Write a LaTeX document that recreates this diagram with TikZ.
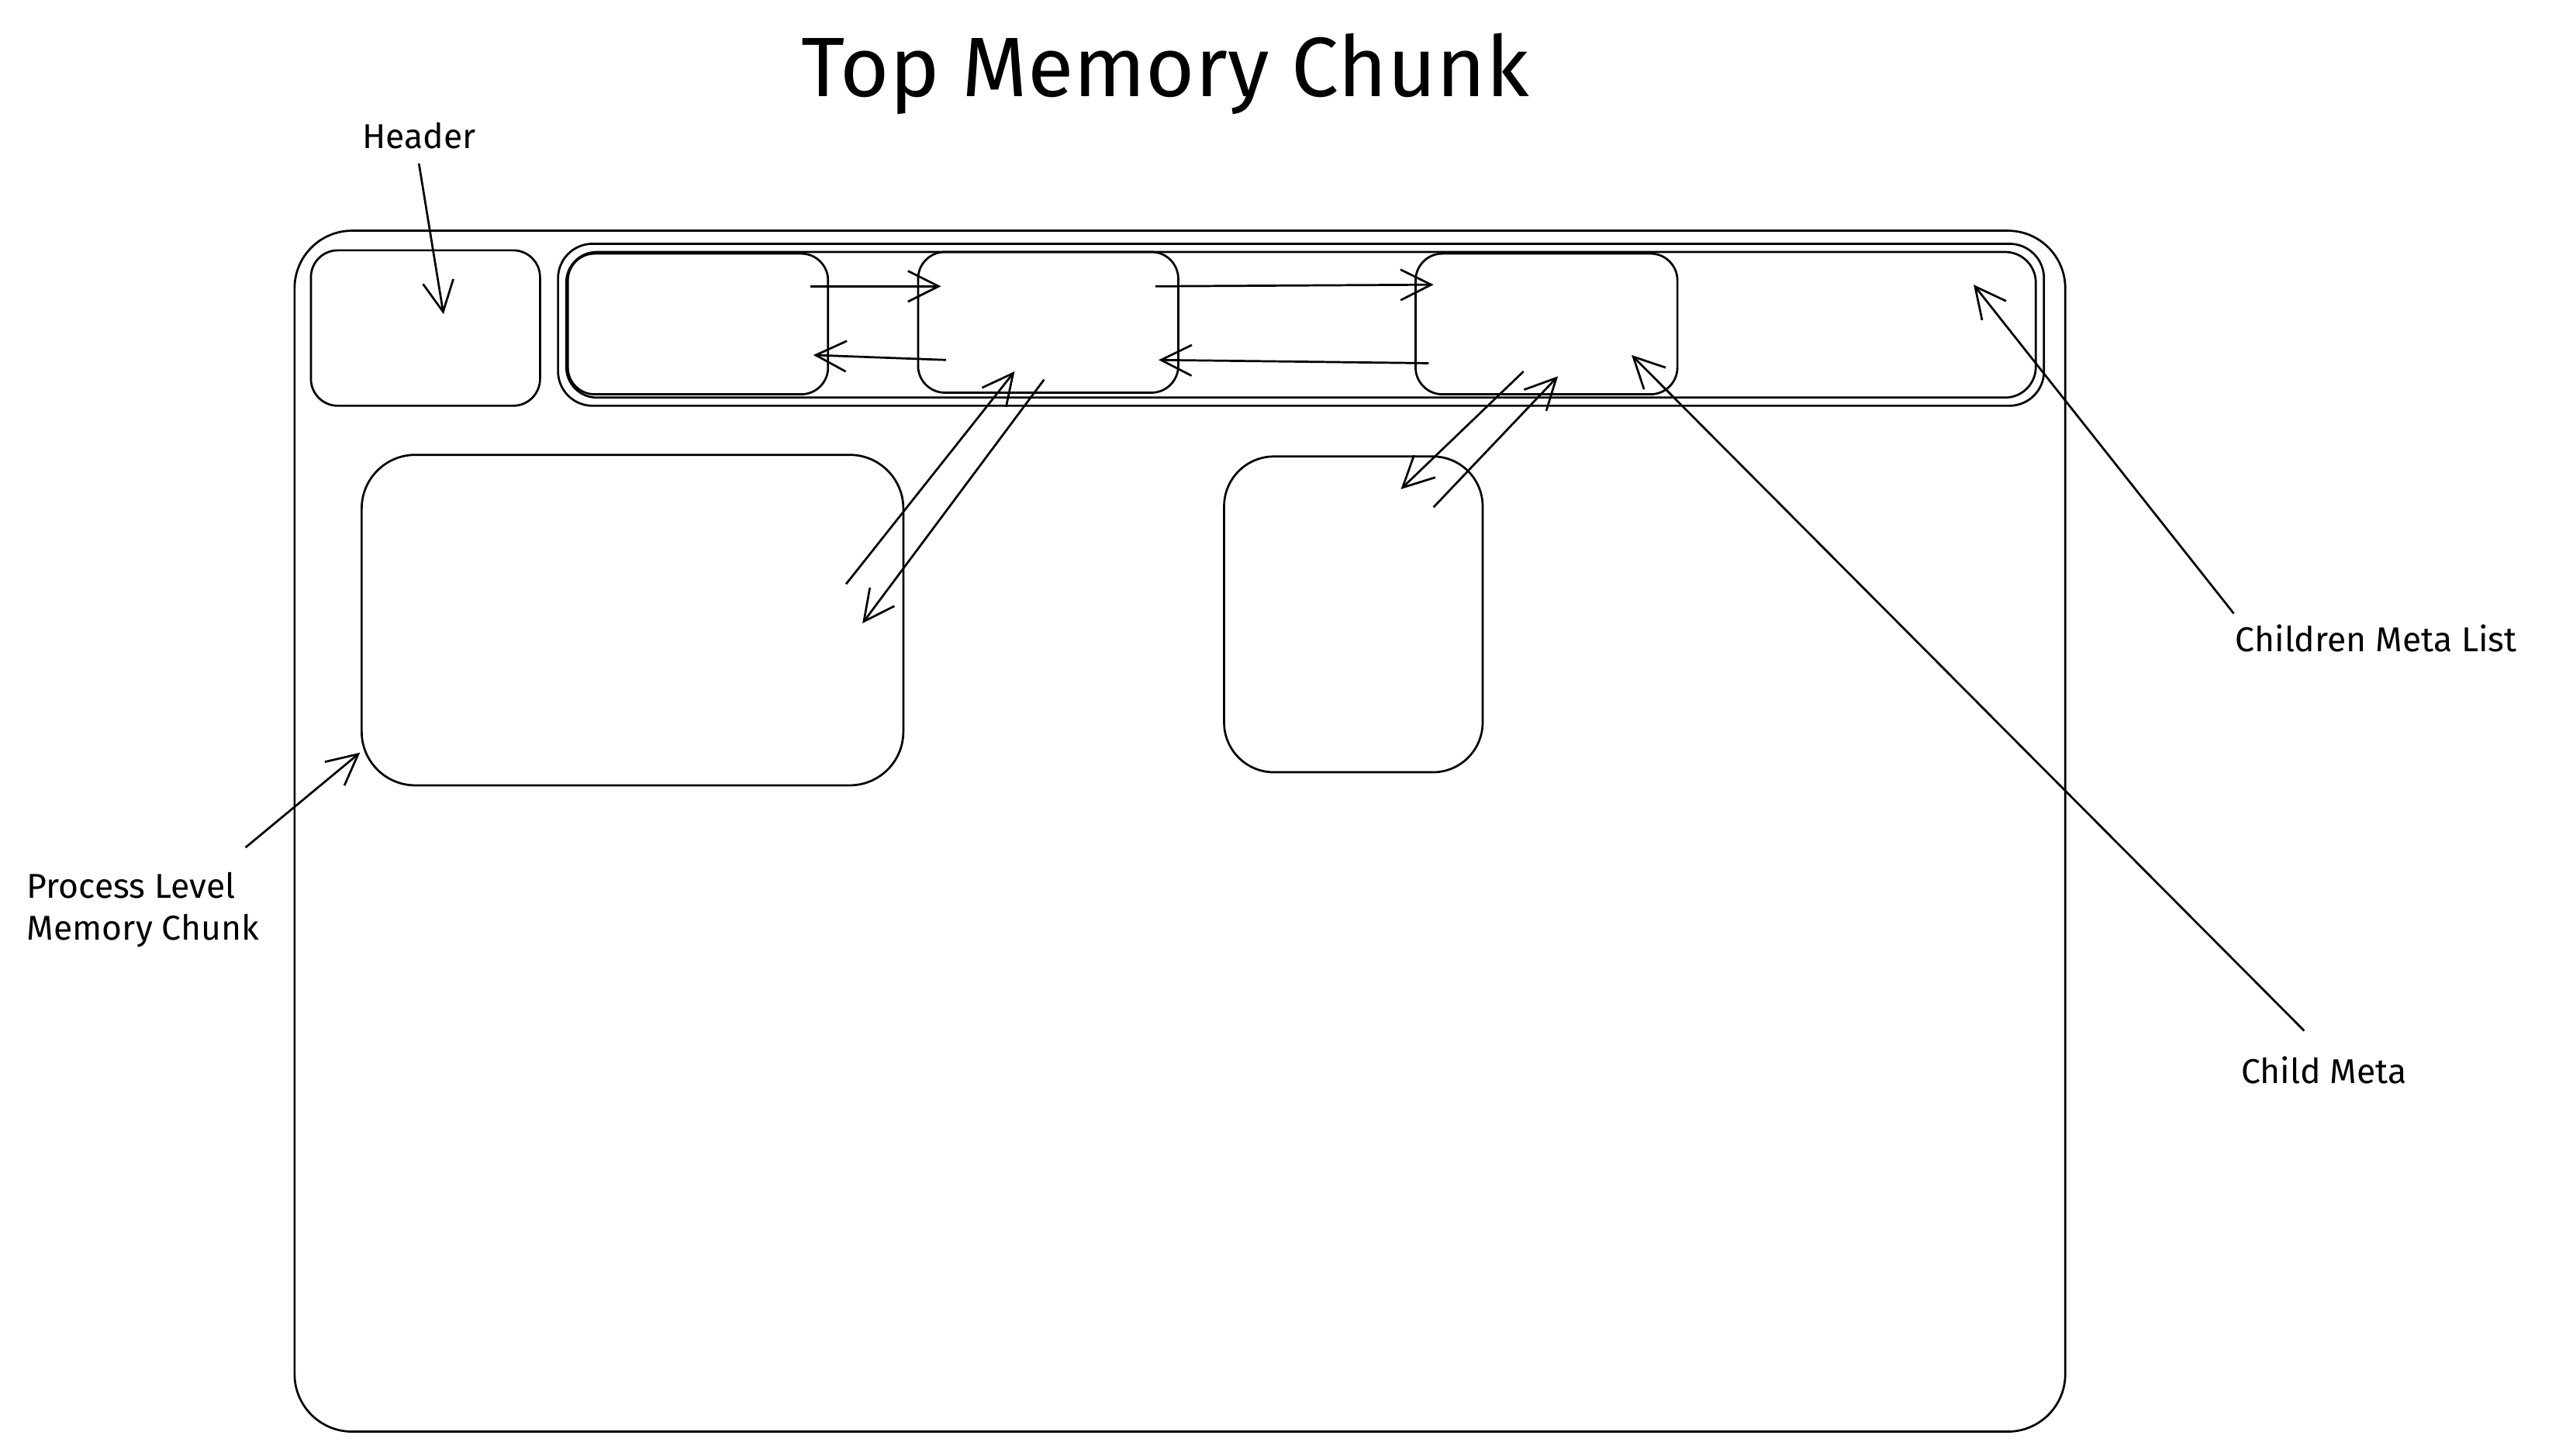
\documentclass[tikz,border=0pt]{standalone}
\usepackage{fontspec}
\setmainfont{Fira Sans}
\usetikzlibrary{arrows.meta}
\begin{document}
\begin{tikzpicture}[x=0.03cm,y=-0.03cm,line width=1.1pt,
  box/.style={draw,rounded corners=18pt},
  arr/.style={draw,-{Straight Barb[length=16pt,width=16pt,line width=1.1pt]}},
  lbl/.style={font=\fontsize{18}{22}\selectfont,align=left}]
\useasboundingbox (0,0) rectangle (1568,889.5);
\node[font=\fontsize{44}{50}\selectfont] (title) at (712,45) {Top Memory Chunk};
\draw[box,rounded corners=30pt] (180,141) rectangle (1262,875);
\node[box,rounded corners=14pt,minimum width=140*0.03cm,minimum height=95*0.03cm] (hdr) at (260,200.5) {};
\draw[box,rounded corners=18pt] (341,149) rectangle (1249,248);
\draw[box,rounded corners=16pt] (346,154) rectangle (1244,243);
\node[box,rounded corners=14pt,minimum width=159*0.03cm,minimum height=86*0.03cm] (A) at (426.5,198) {};
\node[box,rounded corners=14pt,minimum width=159*0.03cm,minimum height=86*0.03cm] (B) at (640.5,197) {};
\node[box,rounded corners=14pt,minimum width=160*0.03cm,minimum height=86*0.03cm] (C) at (945,198) {};
\node[box,rounded corners=28pt,minimum width=331*0.03cm,minimum height=202*0.03cm] (big) at (386.5,379) {};
\node[box,rounded corners=26pt,minimum width=158*0.03cm,minimum height=193*0.03cm] (small) at (827,375.5) {};
\coordinate (a1) at (495,175); \coordinate (a2) at (575,175);
\coordinate (b1) at (578,220); \coordinate (b2) at (497,217);
\coordinate (c1) at (706,175); \coordinate (c2) at (876,174);
\coordinate (d1) at (873,222); \coordinate (d2) at (708,220);
\draw[arr] (a1) -- (a2); \draw[arr] (b1) -- (b2);
\draw[arr] (c1) -- (c2); \draw[arr] (d1) -- (d2);
\coordinate (e1) at (517,357); \coordinate (e2) at (620,227);
\coordinate (f1) at (638,232); \coordinate (f2) at (527,381);
\draw[arr] (e1) -- (e2); \draw[arr] (f1) -- (f2);
\coordinate (g1) at (931,227); \coordinate (g2) at (856,299);
\coordinate (h1) at (876,310); \coordinate (h2) at (952,230);
\draw[arr] (g1) -- (g2); \draw[arr] (h1) -- (h2);
\node[lbl] (lh) at (256,83) {Header};
\coordinate (lh1) at (256,100); \coordinate (lh2) at (271,192);
\draw[arr] (lh1) -- (lh2);
\node[lbl] (lcl) at (1452,390) {Children Meta List};
\coordinate (cl1) at (1365,375); \coordinate (cl2) at (1206,174);
\draw[arr] (cl1) -- (cl2);
\node[lbl] (lcm) at (1420,654) {Child Meta};
\coordinate (cm1) at (1408,630); \coordinate (cm2) at (997,217);
\draw[arr] (cm1) -- (cm2);
\node[lbl,anchor=west] (lp) at (12,556) {Process Level\\Memory Chunk};
\coordinate (p1) at (150,518); \coordinate (p2) at (220,460);
\draw[arr] (p1) -- (p2);
\end{tikzpicture}
\end{document}
